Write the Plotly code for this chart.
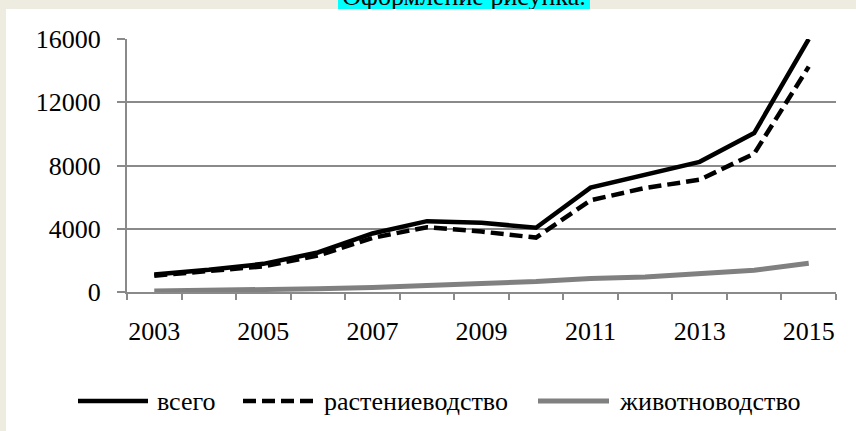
import plotly.graph_objects as go

# ---------------- data ----------------
years = ["2003", "2004", "2005", "2006", "2007", "2008", "2009",
         "2010", "2011", "2012", "2013", "2014", "2015"]
total = [1100, 1400, 1780, 2500, 3700, 4480, 4380, 4060, 6600, 7450, 8230, 10050, 16000]
crop = [1030, 1300, 1620, 2300, 3420, 4100, 3820, 3440, 5800, 6580, 7100, 8750, 14250]
animal = [70, 100, 140, 200, 290, 380, 540, 660, 860, 950, 1150, 1370, 1820]
x_labels = ["2003", "", "2005", "", "2007", "", "2009", "", "2011", "", "2013", "", "2015"]
y_ticks = [0, 4000, 8000, 12000, 16000]
y_labels = ["0", "4000", "8000", "12000", "16000"]
series_names = ["всего", "растениеводство", "животноводство"]
title_text = "Оформление рисунка."

# ---------------- style ----------------
FONT = "Liberation Serif, Times New Roman, serif"
FS = 26
GRID = "#8a8a8a"
GRAY_LINE = "#808080"
BEIGE = "#EEECE1"
CYAN = "#00FFFF"

W, H = 856, 431
L, R, T, B = 127, 20, 0, 139
paper_h = H - T - B            # pixels covered by paper coords (0..292)
plot_top_px = 39               # top of main plotting area
strip_px = 9                   # height of beige strip on top
main_top = (paper_h - plot_top_px) / paper_h
strip_bot = (paper_h - strip_px) / paper_h

styles = [
    dict(color="black", width=4.5),
    dict(color="black", width=4.5, dash="13px,6px"),
    dict(color=GRAY_LINE, width=5),
]

fig = go.Figure()
for name, vals, st in zip(series_names, [total, crop, animal], styles):
    fig.add_trace(go.Scatter(x=years, y=vals, mode="lines", name=name,
                             line=st, showlegend=False))

# clipped caption strip at the very top (highlighted text, mostly cut off as in the source)
fig.add_trace(go.Scatter(x=[464], y=[-2], xaxis="x2", yaxis="y2", mode="text",
                         text=[title_text], textposition="middle center",
                         textfont=dict(family=FONT, size=FS, color="black"),
                         showlegend=False, hoverinfo="skip"))

shapes = [
    # white chart frame
    dict(type="rect", xref="paper", yref="paper",
         xsizemode="pixel", ysizemode="pixel", xanchor=0, yanchor=0,
         x0=6 - L, x1=W - L, y0=-B, y1=paper_h - strip_px,
         fillcolor="white", line=dict(width=0), layer="below"),
    # cyan highlight behind caption
    dict(type="rect", xref="x2", yref="y2", x0=338, x1=590, y0=0, y1=strip_px,
         fillcolor=CYAN, line=dict(width=0), layer="below"),
]

# manual legend
legend_y = -(401 - paper_h)
legend_items = [(78, 148, 155), (243, 316, 322), (538, 609, 617)]
annotations = []
for name, st, (lx0, lx1, tx) in zip(series_names, styles, legend_items):
    shapes.append(dict(type="line", xref="paper", yref="paper",
                       xsizemode="pixel", ysizemode="pixel", xanchor=0, yanchor=0,
                       x0=lx0 - L, x1=lx1 - L, y0=legend_y, y1=legend_y,
                       line=st, layer="above"))
    annotations.append(dict(text=name, xref="paper", yref="paper", x=0, y=0,
                            xanchor="left", yanchor="middle",
                            xshift=tx - L, yshift=legend_y, showarrow=False,
                            font=dict(family=FONT, size=FS, color="black")))

fig.update_layout(
    width=W, height=H,
    margin=dict(l=L, r=R, t=T, b=B, pad=0, autoexpand=False),
    paper_bgcolor=BEIGE,
    plot_bgcolor="rgba(0,0,0,0)",
    font=dict(family=FONT, size=FS, color="black"),
    showlegend=False,
    shapes=shapes,
    annotations=annotations,
    xaxis=dict(type="category", range=[-0.5, len(years) - 0.5],
               tickmode="array", tickvals=years, ticktext=x_labels,
               tickangle=0, automargin=False,
               tickson="boundaries", ticks="outside", ticklen=6,
               tickwidth=2, tickcolor=GRID,
               showline=True, linecolor=GRID, linewidth=2,
               showgrid=False, zeroline=False, ticklabelstandoff=15,
               tickfont=dict(family=FONT, size=FS, color="black"),
               anchor="y", domain=[0, 1]),
    yaxis=dict(range=[0, 16000], tickmode="array", tickvals=y_ticks,
               ticktext=y_labels, automargin=False,
               ticks="outside", ticklen=8, tickwidth=2, tickcolor=GRID,
               showline=True, linecolor=GRID, linewidth=2,
               showgrid=True, gridcolor=GRID, gridwidth=2,
               zeroline=False, ticklabelstandoff=11,
               tickfont=dict(family=FONT, size=FS, color="black"),
               domain=[0, main_top], anchor="x"),
    xaxis2=dict(range=[L, W - R], visible=False, domain=[0, 1], anchor="y2",
                fixedrange=True),
    yaxis2=dict(range=[strip_px, 0], visible=False, domain=[strip_bot, 1],
                anchor="x2", fixedrange=True),
)

fig.write_html(
    "out.html",
    config={"displayModeBar": False},
    post_script="document.body.style.margin='0';document.body.style.overflow='hidden';",
)
